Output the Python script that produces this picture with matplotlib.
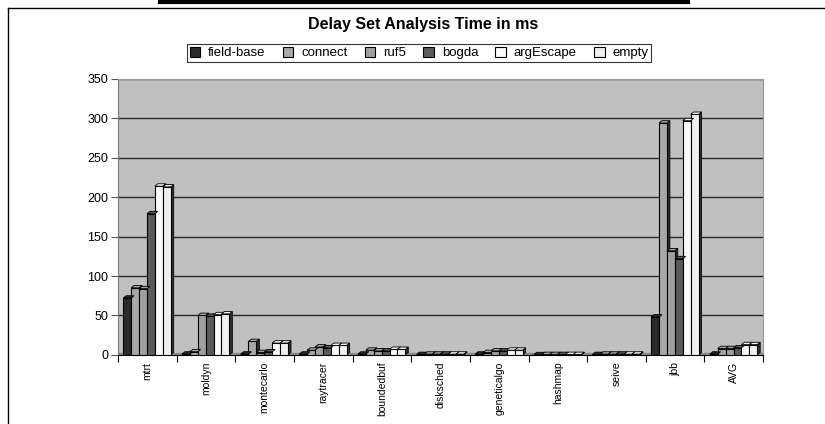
import numpy as np
import matplotlib
matplotlib.use("Agg")
import matplotlib.pyplot as plt
from matplotlib.patches import Polygon
from matplotlib.lines import Line2D

plt.rcParams['font.family'] = ['Liberation Sans', 'DejaVu Sans']

benchmarks = ["mtrt", "moldyn", "montecarlo", "raytracer", "boundedbuf", "disksched",
              "geneticalgo", "hashmap", "seive", "jbb", "AVG"]
series = ["field-base", "connect", "ruf5", "bogda", "argEscape", "empty"]

field_base = [72, 1, 1, 1, 1, 0.5, 1, 0.3, 0.5, 48, 1]
connect = [85, 4, 17, 6, 6, 1, 3, 0.5, 1, 294, 8]
ruf5 = [84, 50, 3, 10, 5, 1, 5, 0.5, 1, 132, 8]
bogda = [179, 49, 4, 9, 5, 1, 5, 0.5, 1, 122, 9]
arg_escape = [214, 51, 15, 12, 7, 1, 6, 0.5, 1, 297, 13]
empty = [213, 52, 15, 12, 7, 1, 6, 0.5, 1, 305, 13]

colors = ["#2b2b2b", "#a8a8a8", "#a0a0a0", "#5a5a5a", "#fafafa", "#efefef"]
all_vals = [field_base, connect, ruf5, bogda, arg_escape, empty]

fig = plt.figure(figsize=(8.25, 4.24), dpi=100)
ax = fig.add_axes([0.143, 0.163, 0.782, 0.651])
ax.set_facecolor("#c0c0c0")

x = np.arange(len(benchmarks))
w = 0.135
dx, dy = 0.05, 3.0  # fake 3d depth
for i, (name, vals, c) in enumerate(zip(series, all_vals, colors)):
    xs = x - 0.41 + i * w
    ax.bar(xs, vals, width=w, align="edge", color=c, edgecolor="black", linewidth=0.8,
           label=name, zorder=3)
    for xl, v in zip(xs, vals):
        side = Polygon([(xl + w, 0), (xl + w + dx, dy), (xl + w + dx, v + dy), (xl + w, v)],
                       closed=True, facecolor="#303030", edgecolor="black", linewidth=0.6, zorder=2.9)
        top = Polygon([(xl, v), (xl + dx, v + dy), (xl + w + dx, v + dy), (xl + w, v)],
                      closed=True, facecolor=c, edgecolor="black", linewidth=0.6, zorder=3.1)
        ax.add_patch(side)
        ax.add_patch(top)

ax.axhspan(0, 3, color="#8a8a8a", zorder=1)

ax.set_xlim(-0.5, len(benchmarks) - 0.5)
ax.set_ylim(0, 350)
ax.set_yticks(np.arange(0, 351, 50))
ax.yaxis.grid(True, color="#262626", linewidth=1.0, zorder=0)
ax.set_axisbelow(True)

ax.set_xticks(x)
ax.set_xticklabels(benchmarks, rotation=90, fontsize=7.5)
ax.set_xticks(np.arange(-0.5, len(benchmarks)), minor=True)
ax.tick_params(axis="x", which="major", length=0, pad=5)
ax.tick_params(axis="x", which="minor", length=5, width=0.8, color="black")
ax.tick_params(axis="y", length=5, width=0.8, labelsize=9, color="#555555", pad=2)
for s in ["top", "right"]:
    ax.spines[s].set_color("#999999")
ax.spines["left"].set_color("#777777")
ax.spines["bottom"].set_color("black")

fig.text(423 / 825, 1 - 24 / 424, "Delay Set Analysis Time in ms", ha="center", va="center",
         fontsize=11.5, fontweight="bold")
leg = fig.legend(loc="center", bbox_to_anchor=(419 / 825, 1 - 53 / 424), ncol=6, fontsize=9.5,
                 frameon=True, fancybox=False, edgecolor="black", handlelength=0.8,
                 handleheight=0.8, handletextpad=0.6, columnspacing=1.3, borderpad=0.2)
leg.get_frame().set_linewidth(0.8)

# outer frame lines of the original page
fig.add_artist(Line2D([8 / 825, 8 / 825], [0, 1 - 8 / 424], color="black", linewidth=1.0))
fig.add_artist(Line2D([8 / 825, 1], [1 - 8 / 424, 1 - 8 / 424], color="black", linewidth=1.0))
fig.add_artist(Line2D([160 / 825, 688 / 825], [1 - 1.5 / 424, 1 - 1.5 / 424], color="black", linewidth=3))

fig.savefig("out.png", dpi=100)
